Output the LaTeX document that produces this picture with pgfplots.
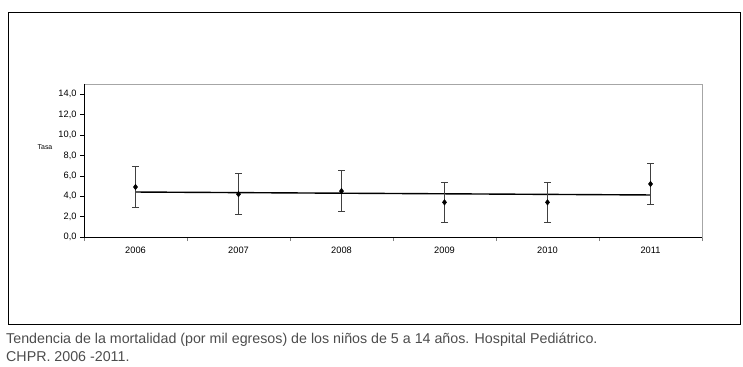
\documentclass[border=0pt]{standalone}
\usepackage{pgfplots}
\pgfplotsset{compat=1.18}
\usepackage{fontspec}
\setmainfont{Liberation Sans}
\begin{document}
\begin{tikzpicture}[x=1bp,y=1bp]
\useasboundingbox (0,0) rectangle (743,366);
\draw[black, line width=0.9bp] (8,42) rectangle (740,354);
\begin{axis}[
  at={(84bp,129bp)}, anchor=south west,
  scale only axis, width=618bp, height=153bp,
  xmin=-0.5, xmax=5.5, ymin=0, ymax=15,
  xtick={0,1,2,3,4,5},
  xticklabels={2006,2007,2008,2009,2010,2011},
  minor xtick={-0.5,0.5,1.5,2.5,3.5,4.5,5.5},
  ytick={0,2,4,6,8,10,12,14},
  tick align=outside,
  major x tick style={draw=none},
  minor tick length=4bp, major tick length=4bp,
  x tick style={gray}, y tick style={black, line width=0.6bp},
  xtick pos=bottom, ytick pos=left,
  axis line style={draw=none},
  ticklabel style={font=\fontsize{9.3}{10}\selectfont},
  yticklabel style={/pgf/number format/.cd, fixed, fixed zerofill, precision=1, use comma, assume math mode=true},
  xticklabel style={yshift=-3bp},
  clip=false,
]
\draw[gray!70, line width=0.8bp] (rel axis cs:0,0) rectangle (rel axis cs:1,1);
\draw[black, line width=0.8bp] (rel axis cs:0,1) -- (rel axis cs:0,0) -- (rel axis cs:1,0);
\addplot[black, line width=1.4bp] coordinates {(0,4.41) (5,4.12)};
\addplot[only marks, mark=diamond*, mark size=2.8bp, black,
  error bars/.cd, y dir=both, y explicit,
  error bar style={line width=0.7bp, black!75},
  error mark options={rotate=90, mark size=3.5bp, line width=0.7bp, black!75}]
  coordinates {
  (0,4.9) +- (0,2.0)
  (1,4.2) +- (0,2.0)
  (2,4.5) +- (0,2.0)
  (3,3.4) +- (0,2.0)
  (4,3.4) +- (0,2.0)
  (5,5.2) +- (0,2.0)
};
\end{axis}
\node[anchor=center, font=\fontsize{7}{8}\selectfont] at (45,219) {Tasa};
\node[anchor=base west, inner sep=0, text=black!70, font=\fontsize{14.3}{16}\selectfont] at (6,23) {Tendencia de la mortalidad (por mil egresos) de los niños de 5 a 14 años. Hospital Pediátrico.};
\node[anchor=base west, inner sep=0, text=black!70, font=\fontsize{14.3}{16}\selectfont] at (6,5) {CHPR. 2006 -2011.};
\end{tikzpicture}
\end{document}
